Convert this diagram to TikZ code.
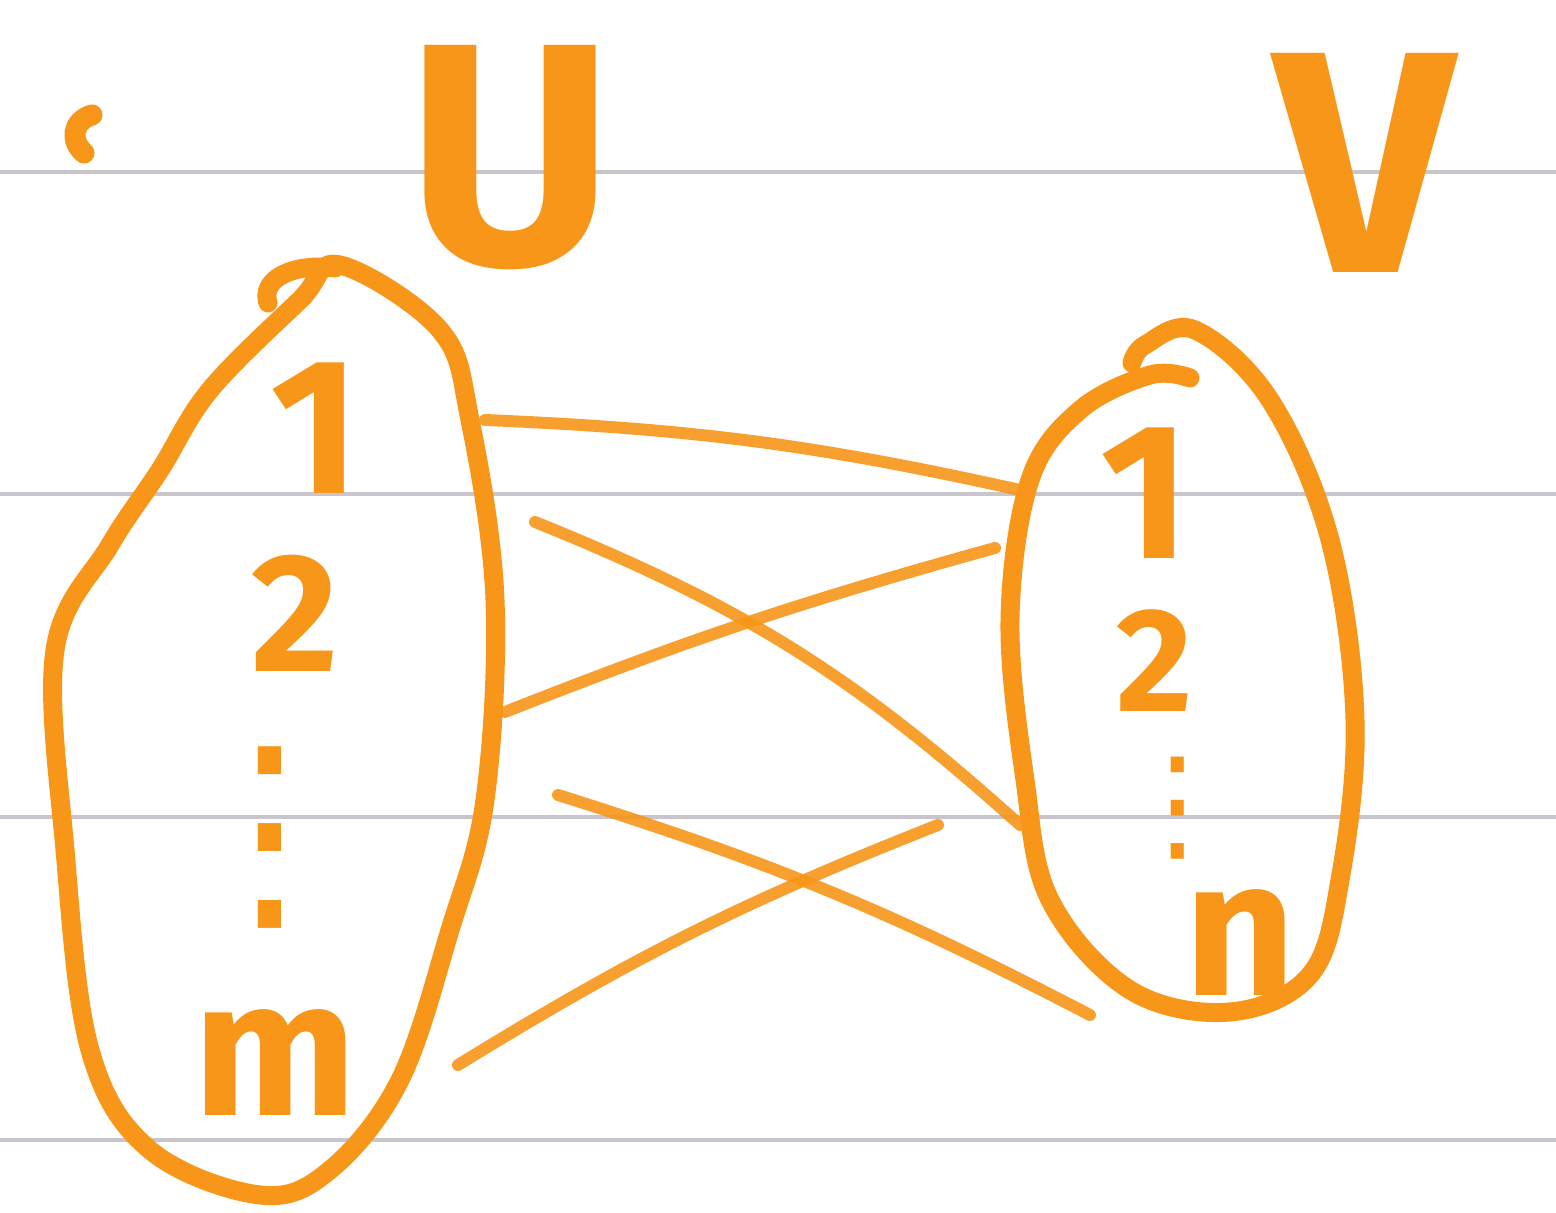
\documentclass[tikz,border=0pt]{standalone}
\usepackage{fontspec}
\setmainfont{Fira Sans}
\newfontfamily\dotsfont{DejaVu Sans}
\definecolor{ink}{RGB}{247,150,24}
\definecolor{ruling}{RGB}{200,198,204}
\begin{document}
\begin{tikzpicture}[
    every node/.style={color=ink, inner sep=0pt, font=\fontsize{55}{55}\selectfont\bfseries},
    rule/.style={ruling, line width=1.2pt},
    blob/.style={ink, line width=5.4pt, line cap=round, line join=round},
    edge/.style={ink, line width=3.4pt, line cap=round, opacity=0.9},
    setname/.style={font=\fontsize{90}{90}\selectfont\bfseries},
    smallnum/.style={font=\fontsize{42}{42}\selectfont\bfseries},
    dotcol/.style={font=\dotsfont\fontsize{64}{64}\selectfont}]
  \useasboundingbox (0,0) rectangle (15.56,12.13);
  % Ruled paper
  \foreach \y in {10.41, 7.19, 3.96, 0.73} {
    \draw[rule] (0,\y) -- (15.56,\y);
  }
  % Stray pen mark
  \draw[ink, line width=6pt, line cap=round] (0.92,10.98) .. controls (0.72,10.92) and (0.70,10.72) .. (0.84,10.60);
  % Set names
  \node[setname] (U) at (5.10,10.55) {U};
  \node[setname] (V) at (13.65,10.50) {V};
  % Left set U
  \draw[blob] plot[smooth cycle, tension=0.6] coordinates {
    (3.40,9.48) (4.40,8.83) (4.70,7.93) (4.95,6.13) (4.85,4.13) (4.50,2.83)
    (4.00,1.33) (3.30,0.43) (2.60,0.18) (1.50,0.63) (0.90,1.63) (0.65,3.63)
    (0.55,5.63) (1.10,6.68) (1.60,7.43) (2.10,8.23) (3.00,9.13)};
  \draw[blob] (3.35,9.45) .. controls (2.95,9.50) and (2.60,9.35) .. (2.68,9.10);
  \node (u1) at (3.15,7.85) {1};
  \node[smallnum, font=\fontsize{48}{48}\selectfont\bfseries] (u2) at (2.95,6.00) {2};
  \node[dotcol] (udots) at (2.70,3.75) {⋮};
  \node (um) at (2.75,1.50) {m};
  % Right set V
  \draw[blob] plot[smooth, tension=0.6] coordinates {
    (11.90,8.35) (11.50,8.38) (10.80,8.03) (10.30,7.33) (10.10,5.93) (10.25,4.33)
    (10.50,3.13) (11.30,2.23) (12.30,2.01) (13.10,2.38) (13.40,3.33) (13.55,4.93)
    (13.30,6.73) (12.70,8.13) (11.95,8.83) (11.45,8.68) (11.32,8.50)};
  \node (v1) at (11.45,7.20) {1};
  \node[smallnum] (v2) at (11.55,5.52) {2};
  \node[dotcol, font=\dotsfont\fontsize{36}{36}\selectfont] (vdots) at (11.78,4.05) {⋮};
  \node (vn) at (12.40,2.70) {n};
  % Edge ends
  \coordinate (a1) at (4.85,7.93);
  \coordinate (b1) at (10.20,7.23);
  \coordinate (a2) at (5.35,6.91);
  \coordinate (b2) at (10.20,3.88);
  \coordinate (a3) at (5.05,5.01);
  \coordinate (b3) at (9.95,6.65);
  \coordinate (a4) at (5.58,4.18);
  \coordinate (b4) at (10.90,1.98);
  \coordinate (a5) at (4.58,1.48);
  \coordinate (b5) at (9.38,3.88);
  % Edges
  \draw[edge] (a1) to[bend left=5] (b1);
  \draw[edge] (a2) to[bend left=10] (b2);
  \draw[edge] (a3) to[bend left=3] (b3);
  \draw[edge] (a4) to[bend left=5] (b4);
  \draw[edge] (a5) to[bend left=5] (b5);
\end{tikzpicture}
\end{document}
